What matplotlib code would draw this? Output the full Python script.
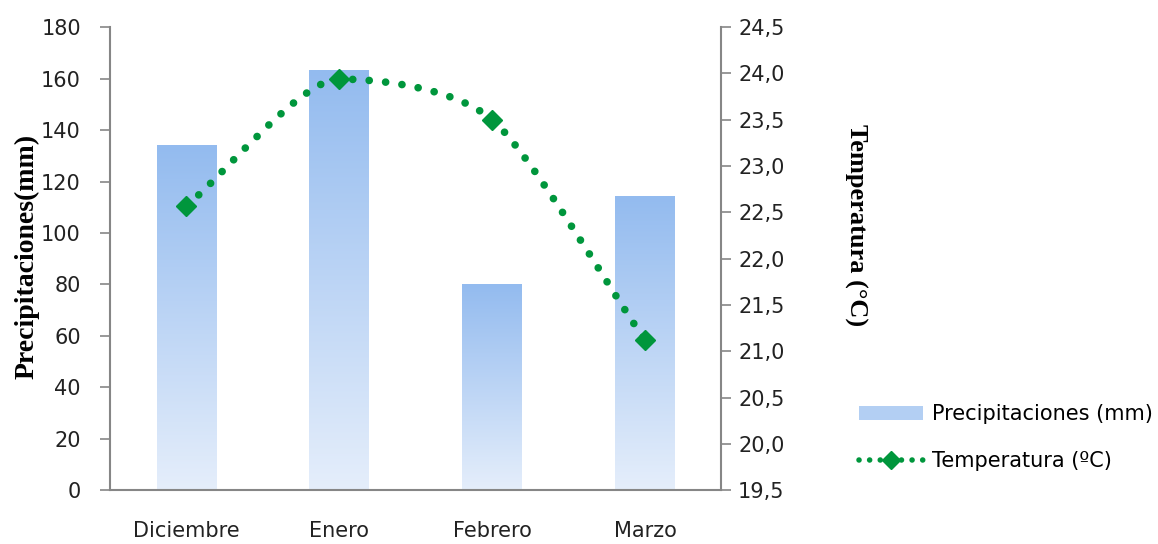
import numpy as np
import matplotlib
matplotlib.use("Agg")
import matplotlib.pyplot as plt
from matplotlib.path import Path
from matplotlib.patches import PathPatch, Patch
from matplotlib.lines import Line2D
from matplotlib.colors import LinearSegmentedColormap
from matplotlib.ticker import FuncFormatter, MultipleLocator

# monthly data
meses = ["Diciembre", "Enero", "Febrero", "Marzo"]
precipitaciones = [134, 163, 80, 114]
temperatura = [22.57, 23.94, 23.50, 21.12]

gris = "#868686"
verde = "#00963c"

fig = plt.figure(figsize=(11.58, 5.44), dpi=100)
ax = fig.add_axes([0.095, 0.099, 0.528, 0.851])
ax2 = ax.twinx()

x = np.arange(len(meses))

# bars (outline only, the fill is a vertical gradient painted per bar)
barras = ax.bar(x, precipitaciones, width=0.39, color="none", edgecolor="none", zorder=2)
degradado = LinearSegmentedColormap.from_list("azul", ["#e5eefb", "#93bbef"])
grad = np.linspace(0, 1, 256).reshape(-1, 1)
for b in barras:
    x0, w, h = b.get_x(), b.get_width(), b.get_height()
    ax.imshow(grad, cmap=degradado, origin="lower", aspect="auto",
              extent=[x0, x0 + w, 0, h], zorder=2)

ax.set_xlim(-0.5, 3.5)
ax.set_ylim(0, 180)
ax.yaxis.set_major_locator(MultipleLocator(20))
ax.set_xticks(x)
ax.set_xticklabels(meses)
ax.tick_params(axis="x", length=0, pad=22, labelsize=15, labelcolor="#222222")
ax.tick_params(axis="y", direction="out", length=7, width=1.2, color=gris,
               labelsize=15, labelcolor="#222222", pad=14)

# smoothed temperature line: cubic Bezier segments through the points,
# flat tangent at local peaks/valleys so the curve does not overshoot
px = x.astype(float)
py = np.array(temperatura)
pts = np.column_stack([px, py])
n = len(pts)
tension = 0.75
tang = np.zeros_like(pts)
for i in range(n):
    a = pts[i - 1] if i > 0 else pts[i]
    b = pts[i + 1] if i + 1 < n else pts[i]
    tang[i] = (b - a) / (2.0 if 0 < i < n - 1 else 1.0)
    if 0 < i < n - 1 and (pts[i, 1] - a[1]) * (b[1] - pts[i, 1]) < 0:
        tang[i, 1] = 0.0
tang *= tension
verts = [pts[0]]
codes = [Path.MOVETO]
for i in range(n - 1):
    c1 = pts[i] + tang[i] / 3.0
    c2 = pts[i + 1] - tang[i + 1] / 3.0
    verts += [c1, c2, pts[i + 1]]
    codes += [Path.CURVE4] * 3
curva = PathPatch(Path(verts, codes), facecolor="none", edgecolor=verde,
                  lw=5.5, linestyle=(0, (0.01, 2.15)), capstyle="round", zorder=3)
ax2.add_patch(curva)
ax2.plot(px, py, linestyle="none", marker="D", ms=10, color=verde, zorder=4)

ax2.set_ylim(19.5, 24.5)
ax2.yaxis.set_major_locator(MultipleLocator(0.5))
ax2.yaxis.set_major_formatter(FuncFormatter(lambda v, p: f"{v:.1f}".replace(".", ",")))
ax2.tick_params(axis="y", direction="out", length=7, width=1.2, color=gris,
                labelsize=15, labelcolor="#222222", pad=5)

for a in (ax, ax2):
    a.spines["top"].set_visible(False)
    for s in ("left", "right", "bottom"):
        a.spines[s].set_color(gris)
        a.spines[s].set_linewidth(1.5)
ax.spines["right"].set_visible(False)
ax2.spines["left"].set_visible(False)
ax2.spines["bottom"].set_visible(False)

ax.set_ylabel("Precipitaciones(mm)", family="Liberation Serif", fontweight="bold",
              fontsize=20)
ax.yaxis.set_label_coords(-0.115, 0.505)
ax2.set_ylabel("Temperatura (°C)", family="Liberation Serif", fontweight="bold",
               fontsize=19, rotation=-90, va="center")
ax2.yaxis.set_label_coords(1.22, 0.572)

handles = [Patch(facecolor="#b3cff3", edgecolor="none"),
           Line2D([0], [0], color=verde, lw=4, linestyle=(0, (0.01, 1.9)),
                  dash_capstyle="round", marker="D", ms=9)]
fig.legend(handles, ["Precipitaciones (mm)", "Temperatura (ºC)"],
           loc="center left", bbox_to_anchor=(0.727, 0.195), frameon=False,
           fontsize=15, handlelength=3.1, handleheight=0.6, labelspacing=1.3,
           handletextpad=0.45, borderpad=0.3)

fig.savefig("out.png", dpi=100)
